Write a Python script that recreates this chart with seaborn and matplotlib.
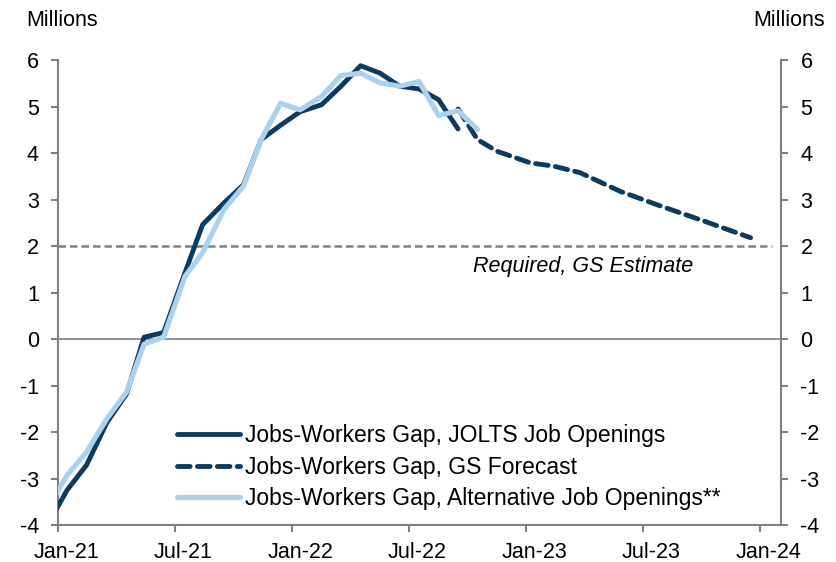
import numpy as np
import pandas as pd
import matplotlib.pyplot as plt
import matplotlib.transforms as mtransforms
import seaborn as sns

# months since Jan-21, data points sit mid-month
jolts_month = [-0.55, 0.45, 1.45, 2.5, 3.5, 4.4, 5.4, 6.5, 7.4, 8.5, 9.5, 10.4,
               11.4, 12.4, 13.5, 14.5, 15.5, 16.5, 17.5, 18.5, 19.5, 20.5]
jolts_value = [-4.0, -3.25, -2.71, -1.79, -1.18, 0.04, 0.14, 1.43, 2.46, 2.93, 3.32, 4.29,
               4.60, 4.89, 5.04, 5.44, 5.88, 5.72, 5.44, 5.38, 5.15, 4.52]

fcst_month = [20.5, 21.5, 22.5, 24.2, 25.4, 26.75, 28.8, 30.9, 33.1, 35.5]
fcst_value = [4.95, 4.29, 4.04, 3.79, 3.72, 3.58, 3.18, 2.86, 2.54, 2.18]

alt_month = [-0.55, 0.45, 1.45, 2.5, 3.5, 4.4, 5.4, 6.5, 7.4, 8.5, 9.5, 10.4,
             11.4, 12.4, 13.5, 14.5, 15.5, 16.5, 17.5, 18.5, 19.5, 20.5, 21.5]
alt_value = [-3.65, -2.93, -2.43, -1.71, -1.14, -0.11, 0.04, 1.35, 1.86, 2.79, 3.29, 4.29,
             5.07, 4.93, 5.22, 5.67, 5.72, 5.51, 5.44, 5.54, 4.81, 4.91, 4.51]

required_level = 2.0
tick_months = [0, 6, 12, 18, 24, 30, 36]
tick_labels = ['Jan-21', 'Jul-21', 'Jan-22', 'Jul-22', 'Jan-23', 'Jul-23', 'Jan-24']
y_ticks = list(range(-4, 7))

labels = ['Jobs-Workers Gap, JOLTS Job Openings',
          'Jobs-Workers Gap, GS Forecast',
          'Jobs-Workers Gap, Alternative Job Openings**']

DARK = '#0B3A63'
LIGHT = '#A8D2F0'
GREY = '#808080'
FS = 15.5

sns.set_theme(style='white')
plt.rcParams['font.family'] = ['Liberation Sans', 'DejaVu Sans']
plt.rcParams['axes.unicode_minus'] = False
plt.rcParams['text.color'] = 'black'

fig = plt.figure(figsize=(8.36, 5.62), dpi=100)
ax = fig.add_axes([0.0697, 0.0658, 0.8645, 0.8272])

ax.axhline(0, color=GREY, lw=1.2, zorder=1)
ax.plot([0, 36.6], [required_level, required_level], color=GREY, lw=1.8,
        dashes=(3, 1.6), zorder=1)

jolts = pd.DataFrame({'m': jolts_month, 'v': jolts_value})
fcst = pd.DataFrame({'m': fcst_month, 'v': fcst_value})
alt = pd.DataFrame({'m': alt_month, 'v': alt_value})

sns.lineplot(data=jolts, x='m', y='v', ax=ax, color=DARK, lw=3.5, label=labels[0],
             zorder=3)
sns.lineplot(data=fcst, x='m', y='v', ax=ax, color=DARK, lw=3.5, label=labels[1],
             zorder=3)
ax.lines[-1].set_dashes((2.6, 1.5))
ax.lines[-1].set_dash_capstyle('round')
sns.lineplot(data=alt, x='m', y='v', ax=ax, color=LIGHT, lw=3.7, label=labels[2],
             zorder=4)

ax.set_xlim(0, 37.06)
ax.set_ylim(-4, 6)
ax.set_xticks(tick_months)
ax.set_xticklabels(tick_labels)
ax.set_yticks(y_ticks)
ax.set_xlabel('')
ax.set_ylabel('')

ax.spines['top'].set_visible(False)
for s in ['left', 'right', 'bottom']:
    ax.spines[s].set_color(GREY)
    ax.spines[s].set_linewidth(1.5)

ax.tick_params(axis='both', direction='out', length=5, width=1.5, color=GREY,
               labelsize=FS, labelcolor='black')
ax.tick_params(axis='y', left=True, right=True, labelleft=True, labelright=True,
               pad=9)
ax.tick_params(axis='x', bottom=True, pad=7)

# x labels sit a little right of their ticks in the original
shift = mtransforms.ScaledTranslation(8 / 100, 0, fig.dpi_scale_trans)
for lab in ax.get_xticklabels():
    lab.set_transform(lab.get_transform() + shift)

ax.text(26.9, 1.57, 'Required, GS Estimate', style='italic', fontsize=FS,
        ha='center', va='center', color='black')

fig.text(26 / 836, 0.964, 'Millions', fontsize=FS, ha='left', va='center')
fig.text(825 / 836, 0.964, 'Millions', fontsize=FS, ha='right', va='center')

leg = ax.legend(loc='center left', bbox_to_anchor=(0.164, 0.1247), frameon=False,
                fontsize=16.5, handlelength=2.75, handletextpad=0.22,
                labelspacing=0.36, borderaxespad=0, borderpad=0)
for t in leg.get_texts():
    t.set_color('black')
for h in leg.get_lines():
    h.set_solid_capstyle('round')
    h.set_dash_capstyle('round')

fig.savefig('out.png', dpi=100)
